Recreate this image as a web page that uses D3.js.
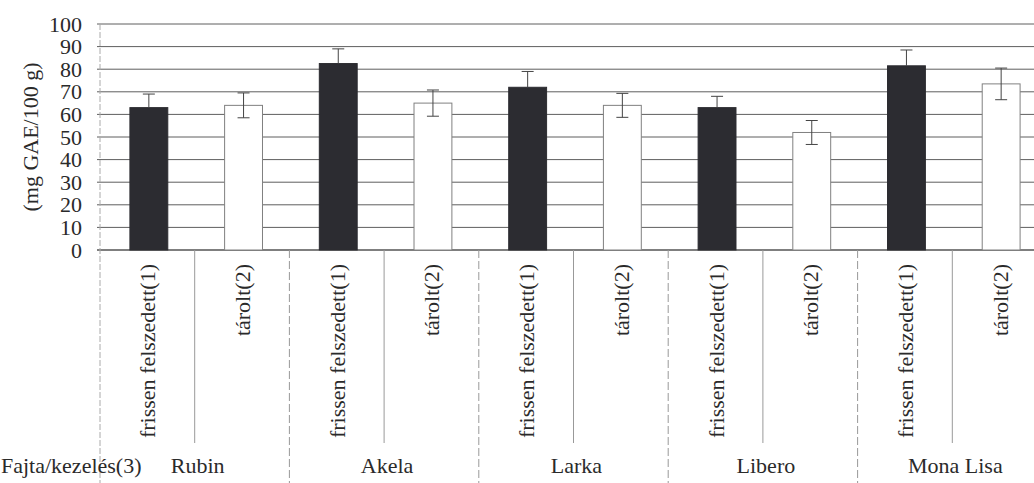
<!DOCTYPE html>
<html><head><meta charset="utf-8">
<script src="https://cdn.jsdelivr.net/npm/d3@7"></script>
<style>
html,body{margin:0;padding:0;background:#fff;overflow:hidden}
</style></head>
<body><svg id="chart" width="1034" height="483"></svg>
<script>
const groups = ["Rubin", "Akela", "Larka", "Libero", "Mona Lisa"];
const treatments = ["frissen felszedett(1)", "tárolt(2)"];
const freshValues = [63, 82.5, 72, 63, 81.5];
const storedValues = [64, 65, 64, 52, 73.5];
const freshErrors = [6, 6.5, 7, 5, 7];
const storedErrors = [5.5, 5.8, 5.3, 5.3, 7];
const yTicks = [0, 10, 20, 30, 40, 50, 60, 70, 80, 90, 100];
const yTitle = "(mg GAE/100 g)";
const xTitle = "Fajta/kezelés(3)";

(function () {
const FONT = "'Liberation Serif', 'Times New Roman', 'DejaVu Serif', serif";
const TXT = "#2a2a2a";
const rows = [];
groups.forEach((g, i) => {
  rows.push({key: g + "|0", group: g, t: 0, label: treatments[0], v: freshValues[i], e: freshErrors[i]});
  rows.push({key: g + "|1", group: g, t: 1, label: treatments[1], v: storedValues[i], e: storedErrors[i]});
});

const svg = d3.select("#chart").attr("font-family", FONT).style("font-family", FONT);
const mLeft = 100, mRight = 1047, mTop = 24, mBottom = 250;
const x = d3.scaleBand().domain(rows.map(d => d.key)).range([mLeft, mRight]);
const y = d3.scaleLinear().domain([0, 100]).range([mBottom, mTop]);
const bw = x.bandwidth() * 0.4;
const cx = d => x(d.key) + x.bandwidth() / 2 + 1.5;

// y axis labels
const ga = svg.append("g").attr("transform", `translate(${mLeft},0)`)
  .call(d3.axisLeft(y).tickValues(yTicks).tickSize(0).tickPadding(18));
ga.attr("font-family", FONT);
ga.select(".domain").remove();
ga.selectAll("text").attr("font-size", 22).attr("fill", TXT).style("font-family", FONT);

// gridlines
svg.append("g").selectAll("line").data(yTicks).join("line")
  .attr("x1", mLeft - 3).attr("x2", mRight).attr("y1", d => y(d)).attr("y2", d => y(d))
  .attr("stroke", d => d === 0 ? "#555" : "#5e5e5e").attr("stroke-width", d => d === 0 ? 1.5 : 1);

// y axis line (faint)
svg.append("line").attr("x1", mLeft).attr("x2", mLeft).attr("y1", mTop).attr("y2", 483)
  .attr("stroke", "#aaa").attr("stroke-dasharray", "6,2");

// separators below axis
const boundaries = rows.map(d => ({x: x(d.key), group: d.t === 0})).slice(1);
boundaries.push({x: mRight, group: true});
svg.append("g").selectAll("line").data(boundaries).join("line")
  .attr("x1", d => d.x).attr("x2", d => d.x)
  .attr("y1", mBottom).attr("y2", d => d.group ? 483 : 443)
  .attr("stroke", "#999").attr("stroke-dasharray", d => d.group ? "8,3" : null);

// bars
svg.append("g").selectAll("rect").data(rows).join("rect")
  .attr("x", d => cx(d) - bw / 2).attr("width", bw)
  .attr("y", d => y(d.v)).attr("height", d => y(0) - y(d.v))
  .attr("fill", d => d.t === 0 ? "#2c2c31" : "#fff")
  .attr("stroke", d => d.t === 0 ? "#2c2c31" : "#808080").attr("stroke-width", 1);

// error bars (lower half of dark bars hidden inside the bar)
const eg = svg.append("g").attr("stroke", "#444").attr("stroke-width", 1);
eg.selectAll("line.v").data(rows).join("line").attr("class", "v")
  .attr("x1", cx).attr("x2", cx).attr("y1", d => y(d.v + d.e))
  .attr("y2", d => d.t === 0 ? y(d.v) : y(d.v - d.e));
eg.selectAll("line.t").data(rows).join("line").attr("class", "t")
  .attr("x1", d => cx(d) - 6).attr("x2", d => cx(d) + 6).attr("y1", d => y(d.v + d.e)).attr("y2", d => y(d.v + d.e));
eg.selectAll("line.b").data(rows.filter(d => d.t === 1)).join("line").attr("class", "b")
  .attr("x1", d => cx(d) - 6).attr("x2", d => cx(d) + 6).attr("y1", d => y(d.v - d.e)).attr("y2", d => y(d.v - d.e));

// rotated treatment labels
svg.append("g").selectAll("text").data(rows).join("text")
  .attr("transform", d => `translate(${x(d.key) + x.bandwidth() / 2 + 8},264) rotate(-90)`)
  .attr("text-anchor", "end").attr("font-size", 22).attr("fill", TXT)
  .style("font-family", FONT)
  .text(d => d.label);

// group labels
const gx = g => (x(g + "|0") + x(g + "|1") + x.bandwidth()) / 2;
svg.append("g").selectAll("text").data(groups).join("text")
  .attr("x", g => gx(g) + 3).attr("y", 473)
  .attr("text-anchor", "middle").attr("font-size", 22).attr("fill", TXT)
  .style("font-family", FONT)
  .text(g => g);
svg.append("text").attr("x", 1).attr("y", 473).attr("font-size", 22).attr("fill", TXT)
  .style("font-family", FONT).text(xTitle);

// y title
svg.append("text").attr("transform", `translate(38,137) rotate(-90)`)
  .attr("text-anchor", "middle").attr("font-size", 22).attr("fill", TXT)
  .style("font-family", FONT).text(yTitle);
})();
</script></body></html>
